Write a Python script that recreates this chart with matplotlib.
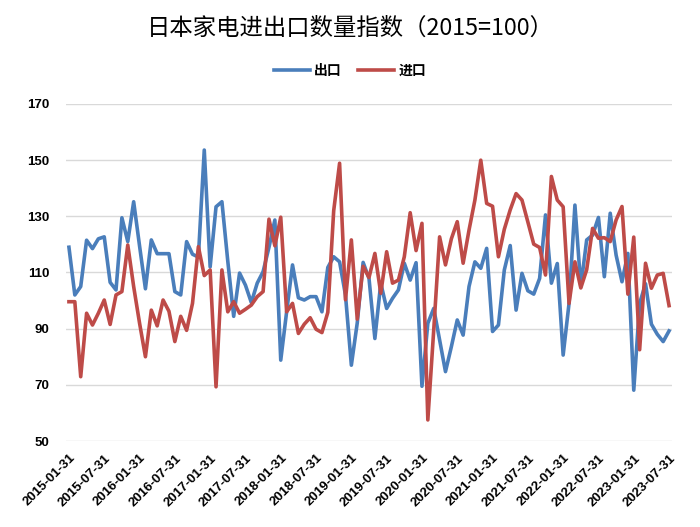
import matplotlib
matplotlib.use("Agg")
import matplotlib.pyplot as plt
import pandas as pd

dates = pd.date_range("2015-01-31", "2023-07-31", freq="ME")
date_labels = [d.strftime("%Y-%m-%d") for d in dates]

exports = [119, 102, 105, 121.5, 118.5, 122, 122.7, 106.5, 103.8, 129.5,
           121, 135.2, 119.5, 104.2, 121.6, 116.7, 116.7, 116.7, 103.2, 102,
           121, 116.5, 115.5, 153.6, 112, 133.4, 135.2, 114, 94.4, 109.8,
           105.5, 99.3, 106.2, 110.3, 119, 128.7, 78.8, 96, 112.7, 101,
           100.2, 101.4, 101.4, 96, 111.8, 115.6, 113.8, 102, 77, 92,
           113.6, 107.9, 86.5, 106.2, 97.2, 100.8, 103.8, 113.3, 107.3, 113.5,
           69.5, 91.9, 97.2, 86, 74.7, 83.6, 93.1, 87.7, 105, 113.8,
           111.5, 118.6, 89, 91.3, 110.9, 119.6, 96.6, 109.7, 103.5, 102.3,
           107.9, 130.5, 106.2, 113.2, 80.6, 99, 134, 105, 121.6, 123.3,
           129.6, 108.5, 131.1, 116.2, 106.7, 116.8, 68.1, 99, 106, 91.6,
           88, 85.4, 89.2]

imports = [99.6, 99.6, 72.9, 95.5, 91.3, 95.5, 100.2, 91.5, 102, 103.2,
           119.8, 105, 92, 80, 96.6, 91, 100.2, 96.2, 85.4, 94.4,
           89.4, 99, 119.2, 108.9, 110.9, 69.3, 110.9, 96, 99.6, 95.5,
           96.9, 98.4, 101.4, 103.2, 129, 119.5, 129.7, 96, 99, 88.3,
           91.6, 93.9, 89.8, 88.6, 95.8, 132, 148.9, 100.3, 121.6, 93.4,
           112.2, 108.2, 116.8, 102.6, 117.4, 106.2, 107.3, 115.6, 131.3, 117.8,
           127.5, 57.5, 89.5, 122.7, 112.7, 122, 128.1, 113.3, 125.1, 135.8,
           150, 134.6, 133.6, 115.6, 125.4, 132.3, 138.1, 135.8, 128, 120.1,
           118.9, 109.1, 144.2, 135.8, 133.4, 99, 113.8, 104.5, 111, 125.7,
           122.2, 122.4, 121, 128.7, 133.5, 102.3, 122.6, 82.5, 113.3, 104.4,
           109.1, 109.7, 98.2]

yticks = [50, 70, 90, 110, 130, 150, 170]
series_names = ["出口", "进口"]
title = "日本家电进出口数量指数（2015=100）"

cjk = ["Noto Sans CJK SC", "DejaVu Sans"]
num_font = ["Liberation Sans", "DejaVu Sans"]

fig = plt.figure(figsize=(7.0, 5.27), dpi=100)
ax = fig.add_axes([66 / 700, 1 - 441 / 527, 606 / 700, 337 / 527])

x = list(range(len(dates)))
l1, = ax.plot(x, exports, color="#4A7EBB", lw=2.6, solid_joinstyle="round",
              label=series_names[0])
l2, = ax.plot(x, imports, color="#BE4B48", lw=2.6, solid_joinstyle="round",
              label=series_names[1])

ax.set_xlim(-0.5, len(dates) - 0.5)
ax.set_ylim(50, 170)
ax.set_yticks(yticks)
ax.set_yticklabels([str(v) for v in yticks], fontfamily=num_font,
                   fontweight="bold", fontsize=9.5)
tick_pos = x[::6]
ax.set_xticks(tick_pos)
ax.set_xticklabels([date_labels[i] for i in tick_pos], rotation=45,
                   ha="right", va="top", rotation_mode="anchor",
                   fontfamily=num_font, fontweight="bold", fontsize=9.5)
ax.tick_params(axis="both", length=0)
ax.tick_params(axis="x", pad=8)
ax.tick_params(axis="y", pad=12)
for s in ax.spines.values():
    s.set_visible(False)
ax.grid(axis="y", color="#D9D9D9", lw=1.0)
ax.set_axisbelow(True)

fig.text(0.5, 1 - 28 / 527, title, ha="center", va="center",
         fontsize=16.8, family=cjk)
fig.legend(handles=[l1, l2], loc="center", bbox_to_anchor=(0.5, 1 - 71 / 527),
           ncol=2, frameon=False, prop={"family": cjk, "size": 10, "weight": "bold"},
           handlelength=2.6, handletextpad=0.3, columnspacing=1.2)

fig.savefig("out.png", dpi=100)
